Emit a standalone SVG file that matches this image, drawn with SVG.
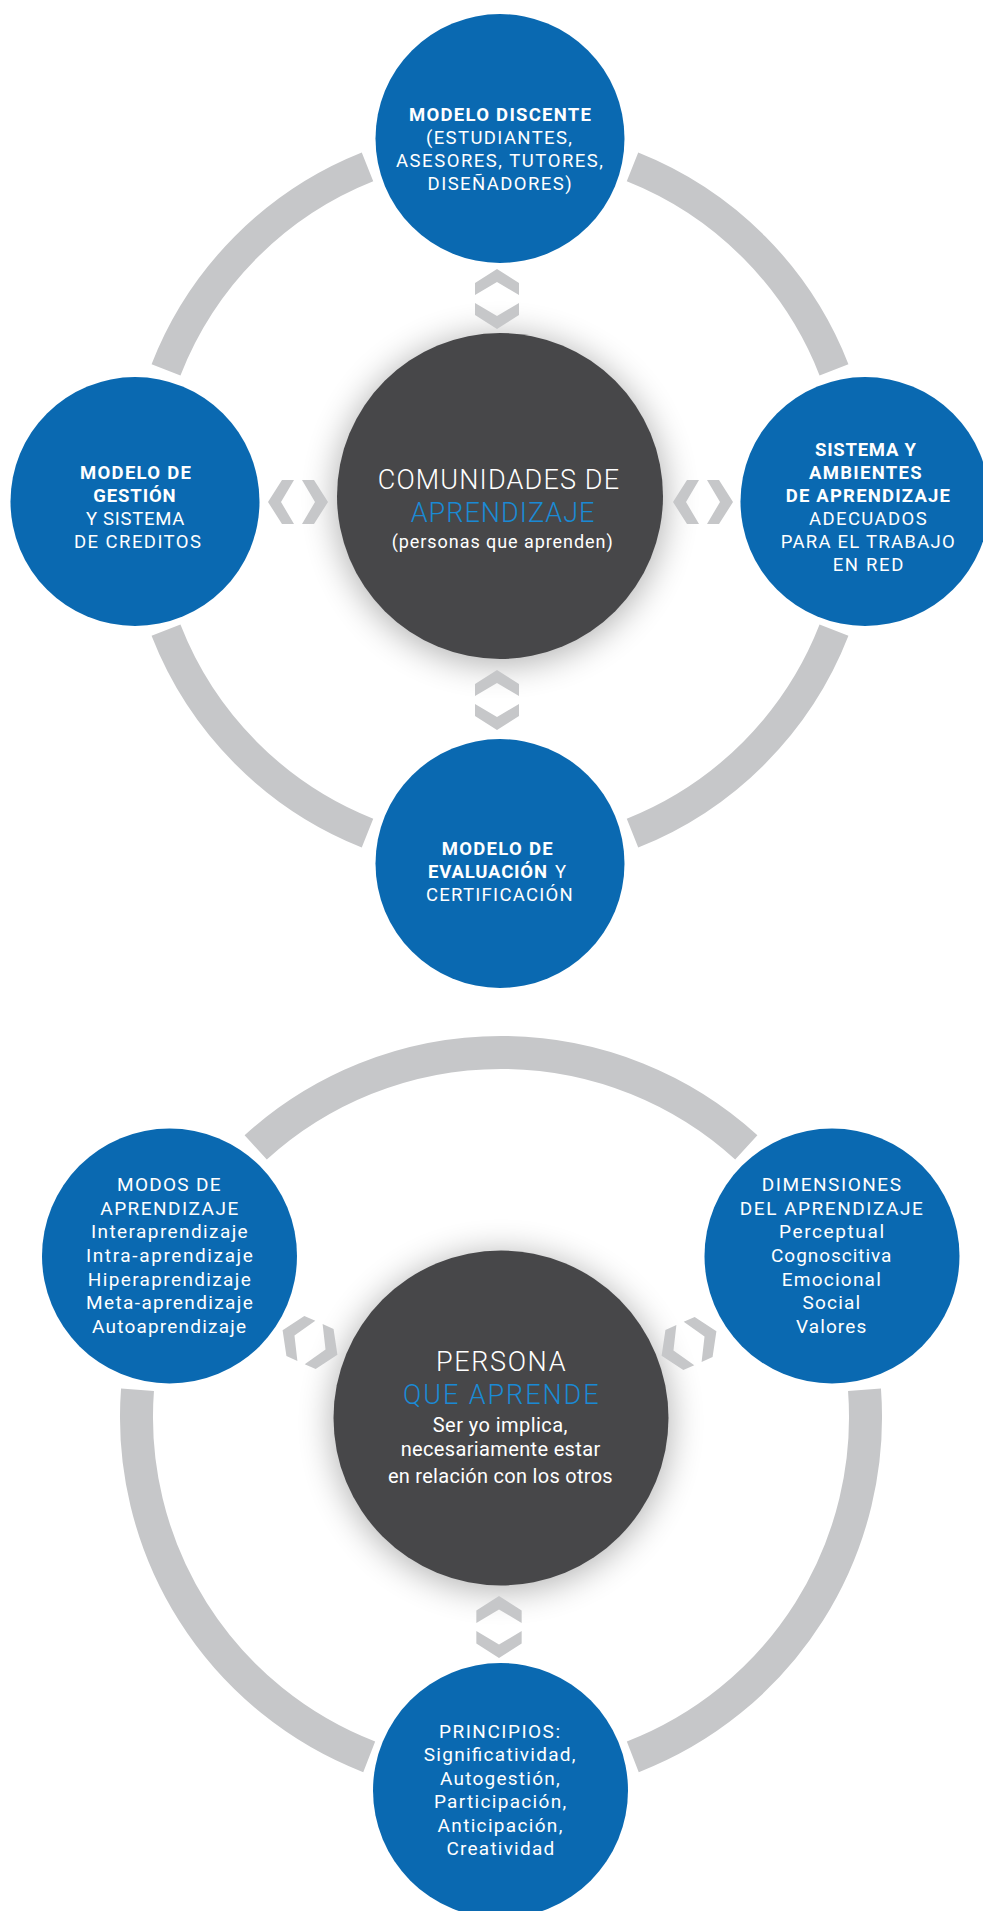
<svg xmlns="http://www.w3.org/2000/svg" xmlns:xlink="http://www.w3.org/1999/xlink" width="983" height="1911" viewBox="0 0 983 1911">
<defs>
<style>
.node{fill:#0a69b1}
.core{fill:#474749}
.ring{fill:none;stroke:#c6c7c9;stroke-linecap:butt}
.chev{fill:#c6c7c9}
text{font-family:Roboto,"Open Sans","DejaVu Sans",sans-serif;fill:#ffffff}
.b{font-weight:700}
.r{font-weight:400}
.l{font-weight:300}
.s18{font-size:18.5px}
.s19{font-size:19px}
.big{font-size:27px}
.blue{fill:#1a8ad4}
</style>
<filter id="soft" x="-40%" y="-40%" width="180%" height="180%"><feGaussianBlur stdDeviation="17"/></filter>
<g id="chev2"><path d="M0,-30 L22,-16 L22,-4 L0,-17 L-22,-4 L-22,-16 Z"/><path d="M-22,4 L0,17 L22,4 L22,16 L0,30 L-22,16 Z"/></g>
</defs>
<rect x="0" y="0" width="983" height="1911" fill="#ffffff"/>

<g id="connectors">
<g stroke-width="31" class="ring">
<path d="M166.0,369.8 A358.5,358.5 0 0 1 367.5,166.9"/>
<path d="M632.5,166.9 A358.5,358.5 0 0 1 834.0,369.8"/>
<path d="M834.0,630.2 A358.5,358.5 0 0 1 632.5,833.1"/>
<path d="M367.5,833.1 A358.5,358.5 0 0 1 166.0,630.2"/>
</g>
<g stroke-width="33" class="ring">
<path d="M255.7,1147.4 A364.5,364.5 0 0 1 746.3,1147.4"/>
<path d="M864.5,1389.7 A364.5,364.5 0 0 1 632.8,1756.8"/>
<path d="M369.2,1756.8 A364.5,364.5 0 0 1 137.5,1389.7"/>
</g>
</g>

<g id="shadows">
<circle cx="500" cy="500" r="165" fill="#000" opacity="0.3" filter="url(#soft)"/>
<circle cx="501" cy="1422" r="169" fill="#000" opacity="0.3" filter="url(#soft)"/>
</g>

<g id="arrows" class="chev">
<use xlink:href="#chev2" transform="translate(497,299)"/>
<use xlink:href="#chev2" transform="translate(497,700)"/>
<use xlink:href="#chev2" transform="translate(298,502) rotate(90)"/>
<use xlink:href="#chev2" transform="translate(703,502) rotate(90)"/>
<use xlink:href="#chev2" transform="translate(499,1627) scale(1.03)"/>
<use xlink:href="#chev2" transform="translate(310,1342.5) rotate(114)"/>
<use xlink:href="#chev2" transform="translate(689,1343.5) rotate(66)"/>
</g>

<g id="node-comunidades">
<circle class="core" cx="500" cy="496" r="163"/>
<text class="l big" x="377.7" y="489.3" textLength="241.3" lengthAdjust="spacing">COMUNIDADES DE</text>
<text class="l big blue" x="410.7" y="521.7" textLength="183.7" lengthAdjust="spacing">APRENDIZAJE</text>
<text class="r" font-size="18" x="391.7" y="547.7" textLength="221" lengthAdjust="spacing">(personas que aprenden)</text>
</g>

<g id="node-discente">
<circle class="node" cx="500" cy="138.5" r="124.5"/>
<text class="b s18" x="409" y="121" textLength="182" lengthAdjust="spacing">MODELO DISCENTE</text>
<text class="r s18" x="426" y="144" textLength="146" lengthAdjust="spacing">(ESTUDIANTES,</text>
<text class="r s18" x="396" y="167" textLength="207" lengthAdjust="spacing">ASESORES, TUTORES,</text>
<text class="r s18" x="427.6" y="190" textLength="144" lengthAdjust="spacing">DISEÑADORES)</text>
</g>

<g id="node-gestion">
<circle class="node" cx="135" cy="501.5" r="124.5"/>
<text class="b s18" x="80" y="479" textLength="111" lengthAdjust="spacing">MODELO DE</text>
<text class="b s18" x="93.3" y="502" textLength="82.3" lengthAdjust="spacing">GESTIÓN</text>
<text class="r s18" x="86" y="525" textLength="98.3" lengthAdjust="spacing">Y SISTEMA</text>
<text class="r s18" x="74" y="548" textLength="127" lengthAdjust="spacing">DE CREDITOS</text>
</g>

<g id="node-sistema">
<circle class="node" cx="865" cy="501.5" r="124.5"/>
<text class="b s18" x="815" y="456" textLength="101" lengthAdjust="spacing">SISTEMA Y</text>
<text class="b s18" x="809" y="479" textLength="112.7" lengthAdjust="spacing">AMBIENTES</text>
<text class="b s18" x="785.7" y="502" textLength="164.3" lengthAdjust="spacing">DE APRENDIZAJE</text>
<text class="r s18" x="809" y="525" textLength="117.7" lengthAdjust="spacing">ADECUADOS</text>
<text class="r s18" x="780.7" y="548" textLength="174" lengthAdjust="spacing">PARA EL TRABAJO</text>
<text class="r s18" x="832.7" y="571" textLength="70.6" lengthAdjust="spacing">EN RED</text>
</g>

<g id="node-evaluacion">
<circle class="node" cx="500" cy="863.5" r="124.5"/>
<text class="b s18" x="441.7" y="855" textLength="111" lengthAdjust="spacing">MODELO DE</text>
<text class="b s18" x="428" y="878" textLength="119" lengthAdjust="spacing">EVALUACIÓN</text>
<text class="r s18" x="555" y="878">Y</text>
<text class="r s18" x="426" y="901" textLength="146.7" lengthAdjust="spacing">CERTIFICACIÓN</text>
</g>

<g id="node-persona">
<circle class="core" cx="501" cy="1418" r="167.5"/>
<text class="l big" x="436" y="1371.2" textLength="129.5" lengthAdjust="spacing">PERSONA</text>
<text class="l big blue" x="403" y="1404" textLength="195.5" lengthAdjust="spacing">QUE APRENDE</text>
<text class="r" font-size="20" x="432.8" y="1431.7" textLength="134.6" lengthAdjust="spacing">Ser yo implica,</text>
<text class="r" font-size="20" x="400.7" y="1456.4" textLength="199.5" lengthAdjust="spacing">necesariamente estar</text>
<text class="r" font-size="20" x="387.9" y="1483.4" textLength="224.8" lengthAdjust="spacing">en relación con los otros</text>
</g>

<g id="node-modos">
<circle class="node" cx="169.5" cy="1256" r="127.5"/>
<text class="r s19" x="117" y="1191" textLength="103.5" lengthAdjust="spacing">MODOS DE</text>
<text class="r s19" x="100.3" y="1215" textLength="137.9" lengthAdjust="spacing">APRENDIZAJE</text>
<text class="r s19" x="91" y="1238.3" textLength="156.7" lengthAdjust="spacing">Interaprendizaje</text>
<text class="r s19" x="86" y="1261.7" textLength="166.8" lengthAdjust="spacing">Intra-aprendizaje</text>
<text class="r s19" x="87.8" y="1285.7" textLength="163" lengthAdjust="spacing">Hiperaprendizaje</text>
<text class="r s19" x="86" y="1309.3" textLength="166.8" lengthAdjust="spacing">Meta-aprendizaje</text>
<text class="r s19" x="92" y="1333.3" textLength="154" lengthAdjust="spacing">Autoaprendizaje</text>
</g>

<g id="node-dimensiones">
<circle class="node" cx="832" cy="1256" r="127.5"/>
<text class="r s19" x="761.8" y="1191" textLength="139.2" lengthAdjust="spacing">DIMENSIONES</text>
<text class="r s19" x="739.8" y="1215" textLength="183" lengthAdjust="spacing">DEL APRENDIZAJE</text>
<text class="r s19" x="779" y="1238.3" textLength="105" lengthAdjust="spacing">Perceptual</text>
<text class="r s19" x="771" y="1261.7" textLength="120.4" lengthAdjust="spacing">Cognoscitiva</text>
<text class="r s19" x="781.8" y="1285.7" textLength="99" lengthAdjust="spacing">Emocional</text>
<text class="r s19" x="802.5" y="1309.3" textLength="57.7" lengthAdjust="spacing">Social</text>
<text class="r s19" x="796" y="1333.3" textLength="70.2" lengthAdjust="spacing">Valores</text>
</g>

<g id="node-principios">
<circle class="node" cx="500.5" cy="1790.5" r="127.5"/>
<text class="r s19" x="439" y="1737.5" textLength="121" lengthAdjust="spacing">PRINCIPIOS:</text>
<text class="r s19" x="423.8" y="1760.7" textLength="151.7" lengthAdjust="spacing">Significatividad,</text>
<text class="r s19" x="440" y="1785" textLength="119.7" lengthAdjust="spacing">Autogestión,</text>
<text class="r s19" x="433.9" y="1808.3" textLength="132.3" lengthAdjust="spacing">Participación,</text>
<text class="r s19" x="437.6" y="1832.3" textLength="124.8" lengthAdjust="spacing">Anticipación,</text>
<text class="r s19" x="446.4" y="1855" textLength="107.8" lengthAdjust="spacing">Creatividad</text>
</g>
</svg>
